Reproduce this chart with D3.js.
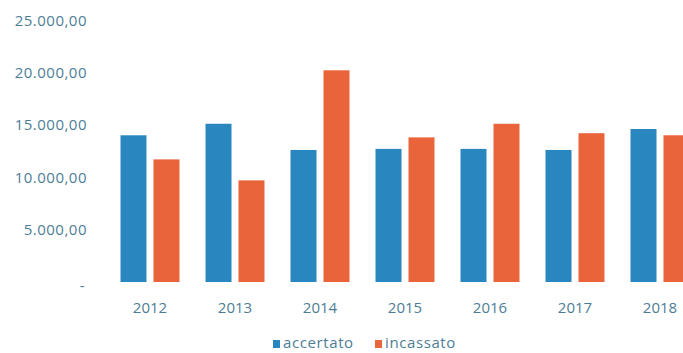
<!DOCTYPE html>
<html>
<head>
<meta charset="utf-8">
<script src="https://cdn.jsdelivr.net/npm/d3@7"></script>
<style>
  html, body { margin: 0; padding: 0; background: #ffffff; }
  svg { display: block; }
  text { font-family: "Open Sans", "DejaVu Sans", sans-serif; }
</style>
</head>
<body>
<svg id="chart" width="683" height="353"></svg>
<script>
// Annual amounts (euro) per year
const years = ["2012", "2013", "2014", "2015", "2016", "2017", "2018"];
const seriesNames = ["accertato", "incassato"];
const accertato = [14000, 15100, 12600, 12700, 12700, 12600, 14600];
const incassato = [11700, 9700, 20200, 13800, 15100, 14200, 14000];
const yTicks = [0, 5000, 10000, 15000, 20000, 25000];

const colors = { accertato: "#2a86bf", incassato: "#ea643b" };
const labelColor = "#4d7d96";

const svg = d3.select("#chart");

const x0 = d3.scaleBand()
  .domain(years)
  .range([107.5, 702.5])
  .paddingInner(0.306)
  .paddingOuter(0.153);

const x1 = d3.scaleBand()
  .domain(seriesNames)
  .range([0, x0.bandwidth()])
  .paddingInner(0.212);

const y = d3.scaleLinear()
  .domain([0, 25000])
  .range([282, 20]);

const itFmt = d3.formatLocale({
  decimal: ",", thousands: ".", grouping: [3], currency: ["€", ""]
}).format(",.2f");

// Y axis: labels only
const yAxis = svg.append("g")
  .attr("transform", "translate(96,0)")
  .call(d3.axisLeft(y).tickValues(yTicks).tickSize(0).tickPadding(9)
    .tickFormat(d => d === 0 ? "-" : itFmt(d)));
yAxis.select(".domain").remove();
yAxis.selectAll("text")
  .attr("fill", labelColor)
  .style("font-size", "15px")
  .style("letter-spacing", "0.5px")
  .attr("dy", "0.34em");
yAxis.selectAll(".tick").filter(d => d === 0).select("text")
  .attr("transform", "translate(-2,3)");

// X axis: year labels
const xAxis = svg.append("g")
  .attr("transform", "translate(0,282)")
  .call(d3.axisBottom(x0).tickSize(0).tickPadding(26));
xAxis.select(".domain").remove();
xAxis.selectAll("text")
  .attr("fill", labelColor)
  .style("font-size", "15px")
  .attr("dy", "0.3em");

// Grouped bars
const rows = years.map((yr, i) => ({ year: yr, accertato: accertato[i], incassato: incassato[i] }));

svg.append("g")
  .selectAll("g")
  .data(rows)
  .join("g")
  .attr("transform", d => `translate(${x0(d.year)},0)`)
  .selectAll("rect")
  .data(d => seriesNames.map(k => ({ key: k, value: d[k] })))
  .join("rect")
  .attr("x", d => x1(d.key))
  .attr("width", x1.bandwidth())
  .attr("y", d => y(d.value))
  .attr("height", d => y(0) - y(d.value))
  .attr("fill", d => colors[d.key]);

// Legend
const legendX = [273, 375];
const legend = svg.append("g")
  .selectAll("g")
  .data(seriesNames)
  .join("g")
  .attr("transform", (d, i) => `translate(${legendX[i]},340)`);
legend.append("rect")
  .attr("width", 7).attr("height", 8)
  .attr("fill", d => colors[d]);
legend.append("text")
  .attr("x", 10).attr("y", 8)
  .attr("fill", labelColor)
  .style("font-size", "15px")
  .style("letter-spacing", "0.6px")
  .text(d => d);
</script>
</body>
</html>
